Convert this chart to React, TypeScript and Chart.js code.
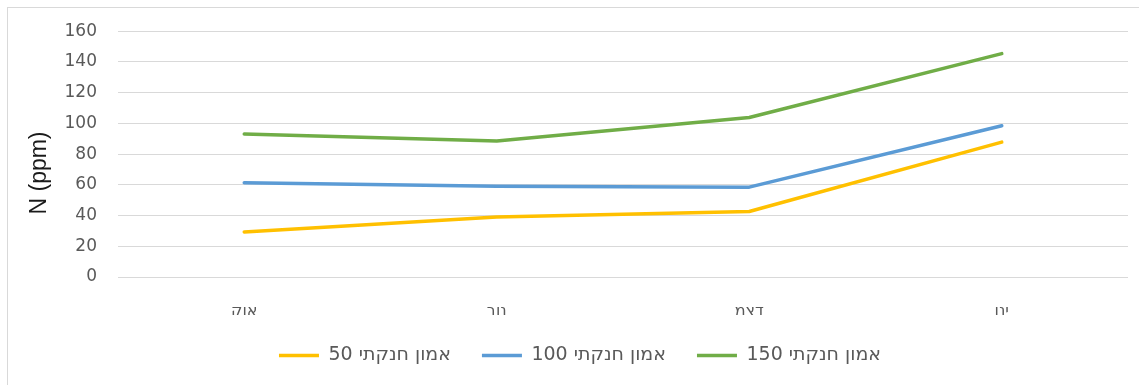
import React, { useEffect, useRef } from "react";
import { Chart, registerables } from "chart.js";

Chart.register(...registerables);

const categories = ["אוק", "נוב", "דצמ", "ינו"];
const seriesNames = ["אמון חנקתי 50", "אמון חנקתי 100", "אמון חנקתי 150"];
const series50 = [29.3, 39, 42.6, 87.8];
const series100 = [61.3, 59.1, 58.5, 98.5];
const series150 = [93.1, 88.5, 103.8, 145.4];
const seriesColors = ["#FFC000", "#5B9BD5", "#70AD47"];
const yTicks = [0, 20, 40, 60, 80, 100, 120, 140, 160];
const yTitle = "N (ppm)";

const yTitlePlugin = {
  id: "yTitlePlugin",
  afterDraw(chart: any) {
    const ctx = chart.ctx;
    ctx.save();
    ctx.translate(40, 173);
    ctx.rotate(-Math.PI / 2);
    ctx.fillStyle = "#1a1a1a";
    ctx.font = "23px 'Liberation Sans'";
    ctx.textAlign = "center";
    ctx.textBaseline = "middle";
    ctx.fillText(yTitle, 0, 0);
    ctx.restore();
  },
};

export default function App() {
  const ref = useRef<HTMLCanvasElement | null>(null);

  useEffect(() => {
    document.body.style.margin = "0";
    const canvas = ref.current;
    if (!canvas) return;
    const values = [series50, series100, series150];
    const chart = new Chart(canvas, {
      type: "line",
      data: {
        labels: categories,
        datasets: values.map((v, i) => ({
          label: seriesNames[i],
          data: v,
          borderColor: seriesColors[i],
          backgroundColor: seriesColors[i],
          borderWidth: 3.5,
          pointRadius: 0,
          pointHoverRadius: 0,
          pointStyle: "line",
          tension: 0,
          borderCapStyle: "round",
          borderJoinStyle: "round",
          fill: false,
        })),
      },
      options: {
        animation: false,
        responsive: false,
        maintainAspectRatio: false,
        layout: { padding: { top: 30, right: 11, bottom: 10, left: 32 } },
        plugins: {
          tooltip: { enabled: false },
          legend: {
            position: "bottom",
            labels: {
              usePointStyle: true,
              pointStyleWidth: 40,
              boxHeight: 3,
              padding: 31,
              color: "#595959",
              font: { family: "DejaVu Sans", size: 19 },
            },
          },
        },
        scales: {
          x: {
            offset: true,
            grid: { display: false, drawTicks: false },
            border: { display: false },
            ticks: {
              color: "#595959",
              padding: 25,
              font: { family: "DejaVu Sans", size: 16 },
            },
            afterFit: (s: any) => {
              s.height = 38;
            },
          },
          y: {
            min: 0,
            max: 160,
            afterBuildTicks: (s: any) => {
              s.ticks = yTicks.map((v) => ({ value: v }));
            },
            grid: { color: "#d9d9d9", lineWidth: 1, drawTicks: false },
            border: { display: false },
            ticks: {
              color: "#595959",
              padding: 21,
              font: { family: "DejaVu Sans", size: 17 },
            },
            title: { display: false },
            afterFit: (s: any) => {
              s.width = 86;
            },
          },
        },
      },
      plugins: [yTitlePlugin],
    });
    return () => chart.destroy();
  }, []);

  return (
    <div style={{ position: "relative", width: 1139, height: 385, overflow: "hidden", background: "#fff" }}>
      <div
        style={{
          position: "absolute",
          left: 7,
          top: 7,
          width: 1200,
          height: 450,
          borderLeft: "1px solid #d9d9d9",
          borderTop: "1px solid #d9d9d9",
        }}
      />
      <canvas ref={ref} width={1139} height={385} style={{ position: "absolute", left: 0, top: 0 }} />
    </div>
  );
}
